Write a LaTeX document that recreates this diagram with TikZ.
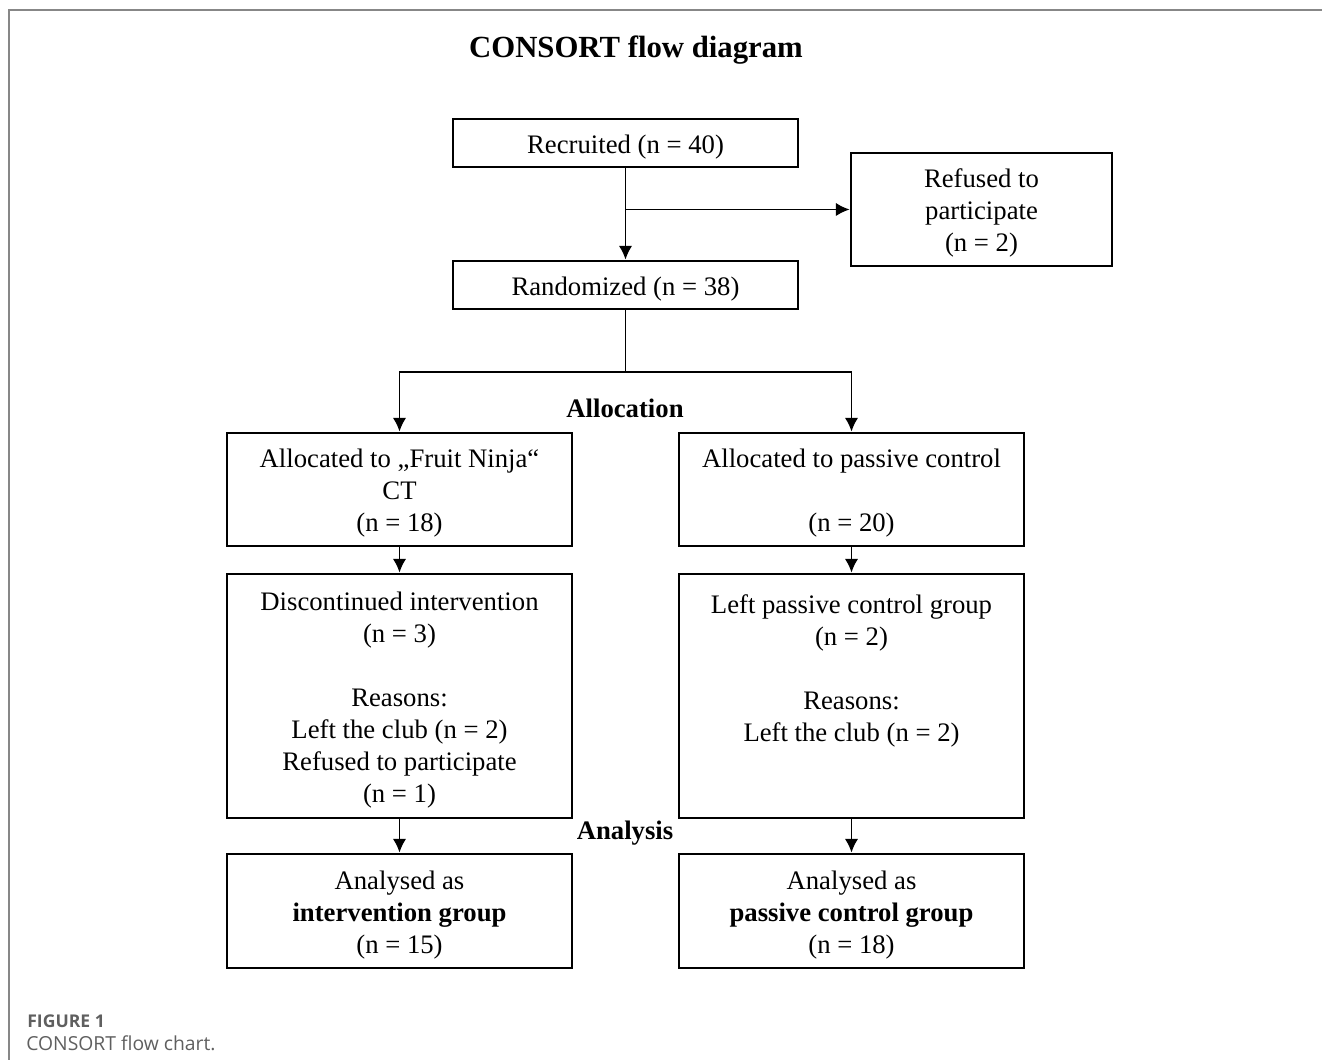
\documentclass[tikz,border=0pt]{standalone}
\usepackage{fontspec}
\setmainfont{Liberation Serif}
\newfontfamily\capfont{Open Sans}
\usetikzlibrary{arrows.meta}
\definecolor{framegray}{RGB}{135,135,135}
\definecolor{capgray}{RGB}{95,95,95}
\newcommand{\tstrut}{\rule{0pt}{15pt}}

\begin{document}
\begin{tikzpicture}[x=0.02cm, y=-0.02cm, >={Latex[length=7.8pt,width=7.6pt]},
	box/.style={draw, line width=1.6pt, align=center, inner sep=0pt, minimum width=6.9cm, font=\fontsize{15.2}{18.2}\selectfont},
	conn/.style={line width=1.1pt},
	lbl/.style={font=\fontsize{15.2}{18.2}\selectfont\bfseries}]
	\useasboundingbox (0, 0) rectangle (1322, 1060);
	\draw[framegray, line width=1.2pt] (9, 1060) -- (9, 10) -- (1322, 10);

	\node[font=\fontsize{17.5}{21}\selectfont\bfseries] (title) at (636, 50) {CONSORT flow diagram};

	\node[box, minimum height=0.96cm] (rec) at (625.5, 143) {\tstrut Recruited (n = 40)};
	\node[box, minimum width=5.22cm, minimum height=2.26cm] (ref) at (981.5, 209.5) {\tstrut Refused to\\participate\\(n = 2)};
	\node[box, minimum height=0.96cm] (ran) at (625.5, 285) {\tstrut Randomized (n = 38)};

	\node[box, minimum height=2.26cm] (fn) at (399.5, 489.5) {\tstrut Allocated to „Fruit Ninja“\\CT\\(n = 18)};
	\node[box, minimum height=2.26cm] (pc) at (851.5, 489.5) {\tstrut Allocated to passive control\\~\\(n = 20)};

	\node[box, minimum height=4.88cm] (dis) at (399.5, 696) {\tstrut Discontinued intervention\\(n = 3)\\~\\Reasons:\\Left the club (n = 2)\\Refused to participate\\(n = 1)};
	\node[box, minimum height=4.88cm] (lpc) at (851.5, 696) {\tstrut Left passive control group\\(n = 2)\\~\\Reasons:\\Left the club (n = 2)\\~\\~};

	\node[box, minimum height=2.28cm] (ai) at (399.5, 911) {\tstrut Analysed as\\\textbf{intervention group}\\(n = 15)};
	\node[box, minimum height=2.28cm] (ap) at (851.5, 911) {\tstrut Analysed as\\\textbf{passive control group}\\(n = 18)};

	\node[lbl] (alloc) at (625, 408) {Allocation};
	\node[lbl] (anal) at (625, 833) {Analysis};

	\coordinate (br) at (rec.south |- ref.west);
	\coordinate (split) at (625.5, 372);
	\draw[conn, ->] (rec) -- (ran);
	\draw[conn, ->] (br) -- (ref.west);
	\draw[conn] (ran) -- (split);
	\draw[conn, ->] (split) -| (fn);
	\draw[conn, ->] (split) -| (pc);
	\draw[conn, ->] (fn) -- (dis);
	\draw[conn, ->] (pc) -- (lpc);
	\draw[conn, ->] (dis) -- (ai);
	\draw[conn, ->] (lpc) -- (ap);

	\node[anchor=west, inner sep=0pt, text=capgray, font=\capfont\fontsize{10}{12}\selectfont\bfseries] (fig) at (27, 1021) {FIGURE 1};
	\node[anchor=west, inner sep=0pt, text=capgray, font=\capfont\fontsize{11}{13}\selectfont] (cap) at (26, 1043) {CONSORT flow chart.};
\end{tikzpicture}
\end{document}
